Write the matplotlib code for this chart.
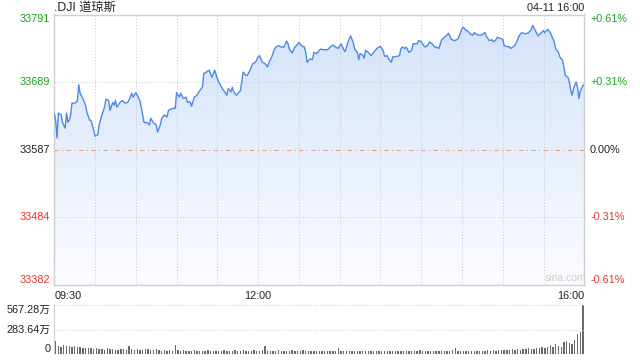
import numpy as np
import matplotlib
matplotlib.use("Agg")
import matplotlib.pyplot as plt
from matplotlib.colors import LinearSegmentedColormap

# ---------------- data ----------------
title = ".DJI 道琼斯"
stamp = "04-11 16:00"
prev_close = 33586.52
pct_range = 0.0061

minutes = [0, 1, 2, 3, 5, 6, 8, 9, 10, 11, 12, 13, 15, 16, 17, 18, 19, 21, 23, 24,
           26, 27, 29, 30, 32, 33, 35, 37, 38, 40, 41, 43, 44, 45, 46, 48, 50, 52, 54, 56,
           57, 58, 60, 61, 63, 64, 66, 67, 68, 70, 71, 73, 75, 76, 78, 79, 81, 83, 84, 87,
           89, 90, 92, 93, 95, 97, 98, 100, 101, 103, 105, 107, 109, 110, 112, 114, 116, 118, 120, 121,
           123, 125, 127, 128, 130, 131, 132, 134, 136, 137, 139, 141, 142, 144, 146, 148, 150, 151, 153, 155,
           157, 158, 160, 162, 163, 165, 167, 169, 171, 172, 173, 175, 177, 179, 180, 182, 184, 185, 186, 188,
           190, 191, 193, 195, 196, 198, 201, 203, 205, 207, 209, 211, 213, 214, 216, 218, 220, 221, 223, 224,
           225, 227, 228, 229, 231, 233, 235, 237, 238, 240, 242, 243, 245, 246, 248, 249, 250, 252, 254, 255,
           256, 258, 259, 261, 263, 264, 265, 267, 268, 270, 272, 273, 275, 276, 278, 280, 281, 283, 285, 287,
           288, 290, 291, 292, 294, 295, 297, 298, 300, 301, 303, 304, 306, 308, 309, 311, 313, 315, 317, 318,
           320, 322, 323, 325, 326, 328, 330, 331, 333, 335, 336, 338, 339, 340, 342, 344, 345, 347, 349, 351,
           352, 354, 355, 356, 358, 360, 361, 363, 365, 366, 368, 369, 371, 372, 374, 375, 376, 378, 379, 380,
           381, 382, 384, 385, 386, 387, 389, 390]
prices = [33641, 33631, 33604, 33642, 33639, 33628, 33619, 33642, 33628, 33631, 33639, 33657, 33657, 33658, 33661, 33685, 33672, 33664, 33654, 33643,
          33631, 33631, 33616, 33607, 33609, 33624, 33639, 33651, 33663, 33661, 33646, 33658, 33654, 33661, 33651, 33657, 33661, 33657, 33658, 33666,
          33672, 33666, 33673, 33669, 33661, 33651, 33628, 33627, 33628, 33624, 33634, 33627, 33624, 33613, 33624, 33634, 33639, 33636, 33646, 33649,
          33649, 33673, 33666, 33672, 33664, 33666, 33658, 33659, 33652, 33666, 33669, 33676, 33681, 33702, 33704, 33707, 33696, 33707, 33694, 33689,
          33681, 33675, 33669, 33679, 33674, 33681, 33674, 33669, 33674, 33676, 33704, 33699, 33699, 33707, 33717, 33719, 33727, 33729, 33719, 33717,
          33712, 33719, 33727, 33739, 33742, 33744, 33742, 33742, 33751, 33747, 33739, 33733, 33742, 33746, 33749, 33744, 33742, 33734, 33719, 33724,
          33723, 33734, 33732, 33737, 33739, 33738, 33738, 33742, 33745, 33742, 33740, 33747, 33738, 33735, 33749, 33759, 33749, 33739, 33734, 33723,
          33732, 33730, 33725, 33737, 33734, 33729, 33734, 33739, 33741, 33743, 33737, 33728, 33729, 33724, 33719, 33727, 33727, 33728, 33729, 33739,
          33742, 33740, 33742, 33734, 33737, 33747, 33747, 33747, 33752, 33750, 33744, 33742, 33745, 33750, 33747, 33742, 33742, 33740, 33753, 33757,
          33758, 33763, 33759, 33754, 33752, 33752, 33754, 33759, 33770, 33772, 33767, 33767, 33762, 33760, 33764, 33761, 33760, 33761, 33764, 33758,
          33752, 33753, 33750, 33753, 33757, 33755, 33754, 33744, 33743, 33742, 33740, 33743, 33745, 33749, 33759, 33764, 33763, 33762, 33764, 33769,
          33775, 33767, 33763, 33759, 33763, 33767, 33764, 33769, 33764, 33759, 33749, 33739, 33734, 33727, 33722, 33712, 33699, 33696, 33689, 33676,
          33669, 33679, 33689, 33681, 33664, 33675, 33684, 33685]

# volume, one bar per two minutes, in 万
volumes = [150, 95, 85, 100, 90, 95, 80, 90, 80, 85,
           75, 70, 75, 65, 60, 70, 55, 60, 50, 65,
           55, 60, 50, 45, 60, 55, 50, 95, 55, 50,
           60, 50, 45, 55, 60, 45, 50, 55, 45, 40,
           45, 40, 50, 40, 100, 45, 40, 45, 40, 35,
           40, 45, 35, 40, 35, 40, 45, 35, 40, 35,
           40, 35, 45, 40, 35, 40, 50, 40, 35, 45,
           40, 35, 40, 45, 35, 40, 45, 90, 40, 35,
           40, 35, 45, 40, 35, 40, 35, 45, 40, 35,
           40, 45, 35, 40, 35, 30, 40, 35, 40, 35,
           30, 35, 40, 35, 70, 35, 30, 40, 35, 30,
           35, 40, 30, 35, 40, 30, 35, 30, 40, 35,
           30, 35, 30, 35, 40, 35, 30, 35, 40, 30,
           35, 30, 40, 35, 45, 35, 30, 35, 40, 30,
           35, 40, 35, 30, 40, 35, 45, 70, 40, 35,
           30, 35, 40, 35, 30, 40, 35, 40, 35, 45,
           40, 45, 40, 45, 50, 45, 50, 45, 55, 50,
           55, 50, 60, 55, 65, 60, 55, 70, 65, 80,
           75, 85, 100, 80, 110, 95, 85, 140, 150, 130,
           120, 160, 230, 250, 567.28]
vol_max = 567.28

x_tick_minutes = [0, 150, 390]
x_tick_labels = ["09:30", "12:00", "16:00"]
price_labels = ["33791", "33689", "33587", "33484", "33382"]
pct_labels = ["+0.61%", "+0.31%", "0.00%", "-0.31%", "-0.61%"]
vol_labels = ["567.28万", "283.64万", "0"]

# ---------------- style ----------------
GREEN = "#1aa51a"
RED = "#f0302a"
BLACK = "#222222"
LINE = "#4d88ec"
BORDER = "#cfcfcf"
GRID = "#c8c8c8"
FONT = ["Liberation Sans", "Noto Sans CJK SC", "DejaVu Sans"]
plt.rcParams["font.family"] = FONT
FS = 7.8

fig = plt.figure(figsize=(6.4, 3.6), dpi=100)
W, H = 640.0, 360.0
L, R = 54.3, 584.3
ax = fig.add_axes([L / W, 1 - 284.7 / H, (R - L) / W, (284.7 - 14.5) / H])
axv = fig.add_axes([L / W, 1 - 354.0 / H, (R - L) / W, (354.0 - 305.0) / H])

ylo = prev_close * (1 - pct_range)
yhi = prev_close * (1 + pct_range)
levels = [yhi, prev_close * (1 + pct_range / 2), prev_close,
          prev_close * (1 - pct_range / 2), ylo]

# gradient area
poly = ax.fill_between(minutes, prices, ylo, facecolor="none", edgecolor="none")
cmap = LinearSegmentedColormap.from_list("g", ["#fbfcff", "#d3e2fa"])
grad = np.linspace(0, 1, 256).reshape(-1, 1)
im = ax.imshow(grad, extent=[0, 390, ylo, yhi], origin="lower", aspect="auto",
               cmap=cmap, zorder=1, interpolation="bilinear")
im.set_clip_path(poly.get_paths()[0], transform=ax.transData)
ax.plot(minutes, prices, color=LINE, lw=1.0, zorder=3)

ax.set_xlim(0, 390)
ax.set_ylim(ylo, yhi)
ax.set_xticks([])
ax.set_yticks([])
for s in ax.spines.values():
    s.set_color(BORDER)
    s.set_linewidth(1.0)

# grid
for m in range(30, 390, 30):
    ax.axvline(m, color=GRID, lw=0.7, ls=(0, (1, 2)), zorder=2)
for lv in [levels[1], levels[3]]:
    ax.axhline(lv, color=GRID, lw=0.7, ls=(0, (1, 2)), zorder=2)
ax.axhline(prev_close, color="#e0a58a", lw=0.8, ls=(0, (4, 3, 1, 3)), zorder=2)

colors = [GREEN, GREEN, BLACK, RED, RED]
vas = ["top", "center", "center", "center", "bottom"]
tr = ax.get_yaxis_transform()
for lv, pl, cl, c, va in zip(levels, price_labels, pct_labels, colors, vas):
    ax.text(-0.0075, lv, pl, color=c, fontsize=FS, ha="right", va=va, transform=tr)
    ax.text(1.0108, lv, cl, color=c, fontsize=FS, ha="left", va=va, transform=tr)

xtr = ax.get_xaxis_transform()
has = ["left", "center", "right"]
for m, lab, ha in zip(x_tick_minutes, x_tick_labels, has):
    ax.text(m, -0.022, lab, ha=ha, va="top", fontsize=FS, color=BLACK, transform=xtr)

ax.text(0.0, 1.025, title, ha="left", va="center", fontsize=8.8, color=BLACK,
        transform=ax.transAxes)
ax.text(1.0, 1.025, stamp, ha="right", va="center", fontsize=FS, color=BLACK,
        transform=ax.transAxes)
ax.text(0.965, 0.005, "sina.com", ha="center", va="bottom", fontsize=7.5,
        color="#cccccc", transform=ax.transAxes, zorder=4)

# volume panel
vx = [2 * i + 1 for i in range(len(volumes))]
axv.bar(vx, volumes, width=1.0, color="#6a6a6a", linewidth=0)
axv.set_xlim(0, 390)
axv.set_ylim(0, vol_max)
axv.set_xticks([])
axv.set_yticks([])
for k, s in axv.spines.items():
    s.set_visible(k == "left")
axv.spines["left"].set_color(BORDER)
axv.axhline(vol_max, color=GRID, lw=0.7, ls=(0, (1, 2)))
axv.axhline(vol_max / 2, color=GRID, lw=0.7, ls=(0, (1, 2)))
vtr = axv.get_yaxis_transform()
for v, lab, va in zip([vol_max, vol_max / 2, 0], vol_labels, ["top", "center", "bottom"]):
    axv.text(-0.0075, v, lab, ha="right", va=va, fontsize=FS, color=BLACK, transform=vtr)

fig.savefig("out.png", dpi=100)
